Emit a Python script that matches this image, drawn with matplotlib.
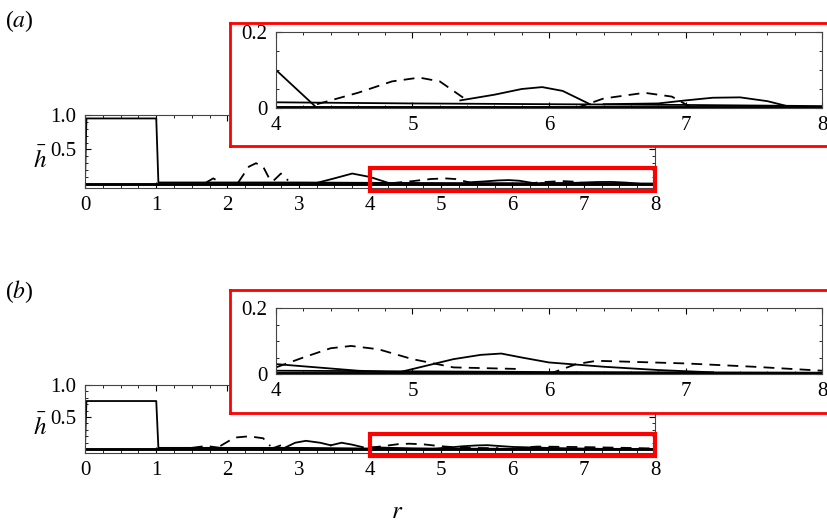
import matplotlib.pyplot as plt
from matplotlib.patches import Rectangle
from matplotlib.ticker import MultipleLocator

plt.rcParams['font.family'] = ['Liberation Serif', 'DejaVu Serif']
plt.rcParams['mathtext.fontset'] = 'stix'
plt.rcParams['font.size'] = 14

# ===== data (r, h) =====
# panel (a)
a_step_r = [0.0, 0.02, 1.0, 1.03, 2, 3, 4, 5, 6, 7, 8]
a_step_h = [0.03, 0.95, 0.95, 0.02, 0.02, 0.02, 0.015, 0.012, 0.01, 0.008, 0.005]
a_base_r = [0.0, 8.0]
a_base_h = [0.003, 0.003]
a_solid = [
    ([3.2, 3.5, 3.75, 4.0, 4.15, 4.3], [0.0, 0.08, 0.15, 0.10, 0.05, 0.0]),
    ([5.35, 5.6, 5.8, 5.95, 6.1, 6.3], [0.02, 0.035, 0.05, 0.055, 0.045, 0.01]),
    ([6.4, 6.8, 7.0, 7.2, 7.4, 7.6, 7.8], [0.01, 0.012, 0.02, 0.027, 0.028, 0.018, 0.0]),
]
a_dash = [
    ([1.7, 1.8, 1.9], [0.02, 0.08, 0.02]),
    ([2.15, 2.3, 2.4, 2.5, 2.6], [0.02, 0.25, 0.3, 0.25, 0.05]),
    ([2.65, 2.75, 2.85], [0.05, 0.15, 0.05]),
    ([4.3, 4.6, 4.85, 5.05, 5.2, 5.4], [0.01, 0.04, 0.07, 0.08, 0.07, 0.02]),
    ([6.2, 6.4, 6.6, 6.7, 6.9, 7.05], [0.0, 0.025, 0.035, 0.04, 0.03, 0.0]),
]
# panel (b)
b_step_r = [0.0, 0.02, 1.0, 1.03, 2, 3, 4, 5, 6, 7, 8]
b_step_h = [0.03, 0.75, 0.75, 0.02, 0.02, 0.02, 0.01, 0.008, 0.006, 0.005, 0.004]
b_base_r = [0.0, 8.0]
b_base_h = [0.003, 0.003]
b_solid = [
    ([2.8, 2.95, 3.1, 3.3, 3.45], [0.02, 0.1, 0.13, 0.1, 0.06]),
    ([3.45, 3.6, 3.75, 3.9], [0.06, 0.1, 0.07, 0.03]),
    ([4.0, 4.3, 4.6, 4.9], [0.03, 0.02, 0.01, 0.005]),
    ([4.9, 5.1, 5.3, 5.5, 5.65, 5.8, 6.0, 6.4, 6.8, 7.2],
     [0.005, 0.025, 0.045, 0.058, 0.062, 0.05, 0.035, 0.022, 0.012, 0.005]),
]
b_dash = [
    ([1.5, 1.7, 1.9], [0.02, 0.05, 0.02]),
    ([1.9, 2.1, 2.3, 2.5, 2.6], [0.05, 0.18, 0.2, 0.17, 0.05]),
    ([2.65, 2.75], [0.02, 0.06]),
    ([4.0, 4.2, 4.4, 4.55, 4.75, 5.0, 5.3, 5.8],
     [0.02, 0.05, 0.078, 0.085, 0.075, 0.045, 0.02, 0.015]),
    ([6.0, 6.2, 6.35, 6.6, 7.0, 7.5, 8.0], [0.0, 0.03, 0.04, 0.037, 0.032, 0.022, 0.01]),
]

W, H = 828, 522


def frac(x0, y0, x1, y1):
    return [x0 / W, 1 - y1 / H, (x1 - x0) / W, (y1 - y0) / H]


def draw(ax, step_r, step_h, base_r, base_h, solid, dash, lw):
    ax.plot(step_r, step_h, 'k-', lw=lw)
    ax.plot(base_r, base_h, 'k-', lw=lw + 0.8)
    for r, h in solid:
        ax.plot(r, h, 'k-', lw=lw)
    for r, h in dash:
        ax.plot(r, h, 'k--', lw=lw, dashes=(6, 4))


def style(ax):
    ax.tick_params(which='both', direction='in', top=True, right=True,
                   labelsize=15, pad=6)
    ax.tick_params(which='major', length=4)
    ax.tick_params(which='minor', length=2)
    for s in ax.spines.values():
        s.set_color('#444444')


fig = plt.figure(figsize=(W / 100, H / 100), dpi=100)

panels = [
    ('a', a_step_r, a_step_h, a_base_r, a_base_h, a_solid, a_dash, 115, 188, 23, 146, 32, 108, 8),
    ('b', b_step_r, b_step_h, b_base_r, b_base_h, b_solid, b_dash, 385, 453, 290, 413, 308, 374, 278),
]

for lab, sr, sh, br, bh, sol, das, my0, my1, by0, by1, iy0, iy1, ly in panels:
    ax = fig.add_axes(frac(85, my0, 655, my1))
    draw(ax, sr, sh, br, bh, sol, das, 1.3)
    ax.set_xlim(0, 8)
    ax.set_ylim(-0.06, 1.0)
    ax.set_xticks(range(9))
    ax.set_yticks([0.5, 1.0])
    ax.set_yticklabels(['0.5', '1.0'])
    ax.xaxis.set_minor_locator(MultipleLocator(0.25))
    ax.yaxis.set_minor_locator(MultipleLocator(0.1))
    style(ax)
    ax.add_patch(Rectangle((4.0, -0.1), 4.0, 0.33, fill=False, ec='red', lw=3,
                           clip_on=False, zorder=5))
    fig.text(40 / W, 1 - ((my0 + my1) / 2 + 8) / H, r'$\bar{h}$', fontsize=18,
             ha='center', va='center')
    fig.text(5 / W, 1 - ly / H, '($%s$)' % lab, fontsize=17, va='top')

    box = fig.add_axes(frac(230, by0, 828, by1))
    box.set_xticks([]); box.set_yticks([])
    for s in box.spines.values():
        s.set_color('red'); s.set_linewidth(2)
    box.set_zorder(10)

    ins = fig.add_axes(frac(276, iy0, 822, iy1))
    ins.set_zorder(11)
    draw(ins, sr, sh, br, bh, sol, das, 1.3)
    ins.set_xlim(4, 8)
    ins.set_ylim(0, 0.2)
    ins.set_xticks([4, 5, 6, 7, 8])
    ins.set_yticks([0, 0.2])
    ins.set_yticklabels(['0', '0.2'])
    ins.xaxis.set_minor_locator(MultipleLocator(0.2))
    ins.yaxis.set_minor_locator(MultipleLocator(0.05))
    style(ins)

fig.text(397 / W, 1 - 512 / H, '$r$', fontsize=18, ha='center', va='center')

fig.savefig('out.png', dpi=100)
